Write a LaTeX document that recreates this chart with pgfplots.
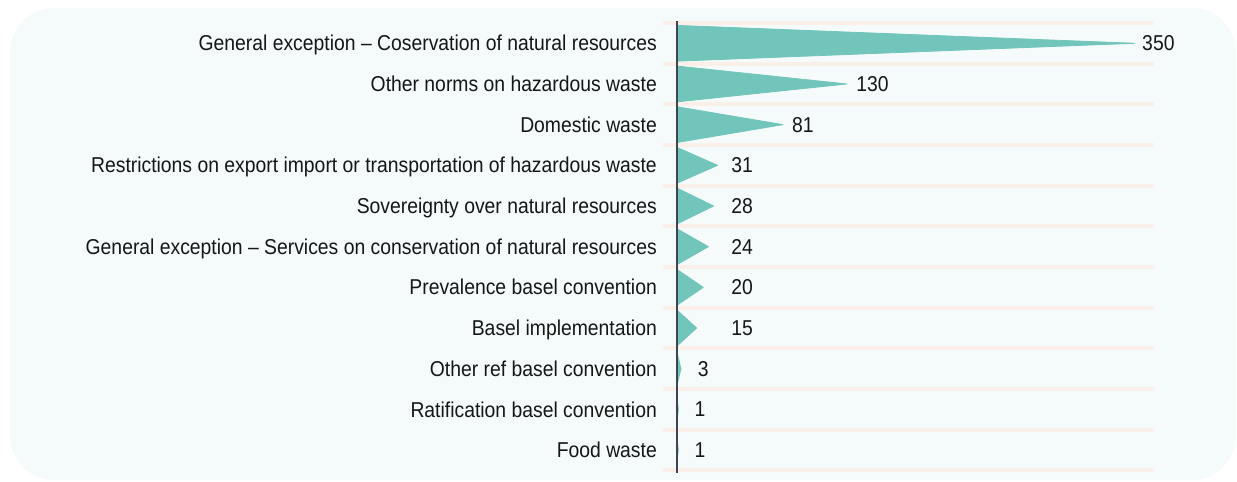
\documentclass[border=0pt]{standalone}
\usepackage{pgfplots}
\pgfplotsset{compat=1.18}
\usepackage{fontspec}
\setmainfont{Liberation Sans}[FakeStretch=0.9]
\definecolor{barcol}{HTML}{71C5BB}
\definecolor{bgcol}{HTML}{F5FBFB}
\definecolor{gridcol}{HTML}{FBEFEA}
\definecolor{txtcol}{HTML}{161616}
\definecolor{axcol}{HTML}{3C4650}
\pgfplotstableread{
x y lab
355.5 0 350
136.9 1 130
87.9 2 81
41.3 3 31
41.3 4 28
41.3 5 24
41.3 6 20
41.3 7 15
15.8 8 3
13.3 9 1
13.3 10 1
}\labtable
\begin{document}
\begin{tikzpicture}
\begin{axis}[
  set layers,
  x=1.308pt, y=40.68pt, y dir=reverse,
  xmin=-10.7, xmax=364.7, ymin=-0.556, ymax=10.57,
  axis line style={draw=none},
  xtick=\empty,
  ytick={0,...,10},
  yticklabels={{General exception – Coservation of natural resources},
    {Other norms on hazardous waste},
    {Domestic waste},
    {Restrictions on export import or transportation of hazardous waste},
    {Sovereignty over natural resources},
    {General exception – Services on conservation of natural resources},
    {Prevalence basel convention},
    {Basel implementation},
    {Other ref basel convention},
    {Ratification basel convention},
    {Food waste}},
  minor ytick={-0.5,0.5,...,10.5},
  yminorgrids, minor grid style={draw=gridcol, line width=4pt},
  major tick length=0pt, minor tick length=0pt,
  clip=false,
  yticklabel style={font=\fontsize{21.5}{25}\selectfont, text=txtcol, inner sep=6pt,
    anchor=base east, yshift=-7.6pt},
]
\begin{pgfonlayer}{axis background}
\fill[bgcol, rounded corners=44pt] (axis cs:-509.9,-0.868) rectangle (axis cs:427.4,10.735);
\end{pgfonlayer}
\path (axis cs:-517.6,-1.064) rectangle (axis cs:428.1,10.76);
\addplot[fill=barcol, draw=barcol, line width=0.8pt, line join=round] coordinates {(0,-0.44) (350,0) (0,0.44)} -- cycle;
\addplot[fill=barcol, draw=barcol, line width=0.8pt, line join=round] coordinates {(0,0.56) (130,1) (0,1.44)} -- cycle;
\addplot[fill=barcol, draw=barcol, line width=0.8pt, line join=round] coordinates {(0,1.56) (81,2) (0,2.44)} -- cycle;
\addplot[fill=barcol, draw=barcol, line width=0.8pt, line join=round] coordinates {(0,2.56) (31,3) (0,3.44)} -- cycle;
\addplot[fill=barcol, draw=barcol, line width=0.8pt, line join=round] coordinates {(0,3.56) (28,4) (0,4.44)} -- cycle;
\addplot[fill=barcol, draw=barcol, line width=0.8pt, line join=round] coordinates {(0,4.56) (24,5) (0,5.44)} -- cycle;
\addplot[fill=barcol, draw=barcol, line width=0.8pt, line join=round] coordinates {(0,5.56) (20,6) (0,6.44)} -- cycle;
\addplot[fill=barcol, draw=barcol, line width=0.8pt, line join=round] coordinates {(0,6.56) (15,7) (0,7.44)} -- cycle;
\addplot[fill=barcol, draw=barcol, line width=0.8pt, line join=round] coordinates {(0,7.6) (3,8) (0,8.4)} -- cycle;
\addplot[fill=barcol, draw=barcol, line width=0.8pt, line join=round] coordinates {(0,8.7) (1,9) (0,9.3)} -- cycle;
\addplot[fill=barcol, draw=barcol, line width=0.8pt, line join=round] coordinates {(0,9.7) (1,10) (0,10.3)} -- cycle;
\addplot[draw=none, mark=none, nodes near coords, point meta=explicit symbolic,
  nodes near coords style={anchor=west, inner sep=0pt, font=\fontsize{21.5}{25}\selectfont, text=txtcol}]
  table[x=x, y=y, meta=lab] {\labtable};
\draw[axcol, line width=1.2pt] (axis cs:0,-0.556) -- (axis cs:0,10.57);
\end{axis}
\end{tikzpicture}
\end{document}
